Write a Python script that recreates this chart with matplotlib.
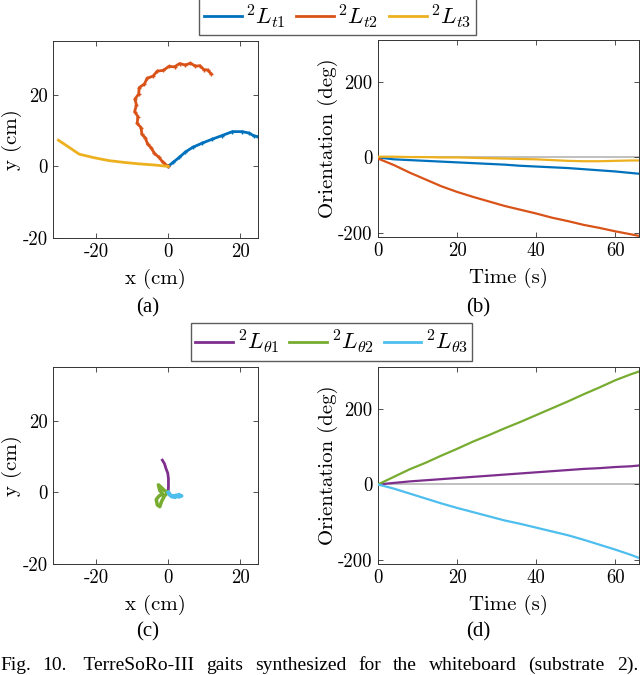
import matplotlib
matplotlib.use("Agg")
import matplotlib.pyplot as plt

plt.rcParams['font.family'] = ['cmr10', 'DejaVu Serif']
plt.rcParams['mathtext.fontset'] = 'cm'
plt.rcParams['axes.unicode_minus'] = False
plt.rcParams['axes.formatter.use_mathtext'] = False

# MATLAB default line colours
C_BLUE, C_ORANGE, C_YELLOW = '#0072BD', '#D95319', '#EDB120'
C_PURPLE, C_GREEN, C_CYAN = '#7E2F8E', '#77AC30', '#4DBEEE'

# (a) trajectories, translation gaits
lt1_x = [0.0, 1.5, 3.1, 4.8, 6.8, 9.5, 12.3, 15.0, 17.9, 20.6, 22.5, 23.9, 25.0]
lt1_y = [0.0, 1.2, 2.5, 4.0, 5.3, 6.5, 7.6, 8.6, 9.7, 9.7, 9.3, 8.5, 8.3]
lt2_x = [0.0, -1.5, -2.6, -3.8, -4.7, -5.7, -6.3, -7.3, -7.5, -8.6, -8.4, -9.3, -8.8, -9.2,
         -8.2, -8.0, -6.6, -5.8, -4.2, -3.0, -1.3, 0.2, 1.8, 3.2, 4.8, 6.2, 7.6, 8.8, 10.0, 11.0, 12.0]
lt2_y = [0.0, 1.2, 2.6, 3.6, 5.2, 6.2, 7.9, 9.0, 10.8, 12.0, 13.9, 15.3, 17.1, 18.8,
         20.2, 22.0, 23.0, 24.6, 25.2, 26.6, 26.8, 27.9, 27.8, 28.7, 28.3, 28.8, 28.0, 28.1, 27.0, 26.9, 25.8]
lt3_x = [-30.5, -27.5, -24.7, -20.5, -16.4, -12.2, -8.1, -4.0, 0.0]
lt3_y = [7.3, 5.3, 3.4, 2.4, 1.6, 1.1, 0.7, 0.4, 0.0]

# (b) orientation, translation gaits
t = [0, 4, 8, 12, 16, 20, 24, 28, 32, 36, 40, 44, 48, 52, 56, 60, 64, 66]
lt1_ori = [0, -5, -7, -9, -11, -13, -15, -17, -19, -22, -24, -26, -28, -31, -34, -37, -41, -43]
lt2_ori = [-3, -20, -40, -58, -76, -91, -104, -116, -128, -138, -148, -159, -168, -178, -186, -195, -203, -207]
lt3_ori = [2, 2, 1, 1, 0, 0, -1, -2, -3, -4, -5, -7, -9, -10, -10, -9, -8, -8]

# (c) trajectories, rotation gaits
lr1_x = [0.0, 0.1, 0.1, -0.1, -0.6, -1.0, -1.6]
lr1_y = [0.0, 1.6, 3.9, 5.4, 6.7, 8.0, 9.0]
lr2_x = [0.0, -1.0, -2.0, -2.7, -2.3, -1.5, -2.5, -3.3, -3.0, -2.3, -1.8, -1.0, 0.0]
lr2_y = [0.0, 0.5, 1.5, 2.1, 0.5, -0.5, -1.0, -2.0, -3.5, -4.0, -2.5, -1.0, 0.0]
lr3_x = [0.0, 0.5, 1.5, 2.3, 3.0, 3.8, 3.0, 2.0, 1.0, 0.3]
lr3_y = [0.0, -0.8, -1.0, -0.8, -1.3, -1.0, -0.6, -1.4, -1.2, -0.3]

# (d) orientation, rotation gaits
lr1_ori = [0, 4, 8, 11, 14, 17, 20, 23, 26, 29, 32, 35, 38, 41, 43, 46, 48, 50]
lr2_ori = [0, 20, 40, 57, 76, 94, 113, 130, 148, 165, 183, 201, 219, 238, 256, 275, 291, 298]
lr3_ori = [0, -11, -24, -37, -50, -62, -73, -84, -95, -104, -114, -124, -134, -146, -159, -172, -186, -194]

caption_words = ['Fig.', '10.', ' TerreSoRo-III', 'gaits', 'synthesized', 'for', 'the',
                 'whiteboard', '(substrate', '2).']

fig = plt.figure(figsize=(6.4, 6.75), dpi=100)

W = 640.0
H = 675.0
def box(l, t_, r, b):
    return [l / W, 1 - b / H, (r - l) / W, (b - t_) / H]

ax_a = fig.add_axes(box(53, 41, 258, 238))
ax_b = fig.add_axes(box(378, 40, 639, 237))
ax_c = fig.add_axes(box(53, 367, 258, 564))
ax_d = fig.add_axes(box(378, 367, 639, 564))

lw = 2.0
h1, = ax_a.plot(lt1_x, lt1_y, color=C_BLUE, lw=lw, marker='+', ms=3)
h2, = ax_a.plot(lt2_x, lt2_y, color=C_ORANGE, lw=lw, marker='+', ms=3)
h3, = ax_a.plot(lt3_x, lt3_y, color=C_YELLOW, lw=lw)

ax_b.axhline(0, color='#b5b5b5', lw=1.2, zorder=1)
ax_b.plot(t, lt1_ori, color=C_BLUE, lw=1.6, zorder=3)
ax_b.plot(t, lt2_ori, color=C_ORANGE, lw=1.6, zorder=3)
ax_b.plot(t, lt3_ori, color=C_YELLOW, lw=1.6, zorder=3)

g1, = ax_c.plot(lr1_x, lr1_y, color=C_PURPLE, lw=lw)
g2, = ax_c.plot(lr2_x, lr2_y, color=C_GREEN, lw=lw + 0.5)
g3, = ax_c.plot(lr3_x, lr3_y, color=C_CYAN, lw=lw + 0.5)

ax_d.axhline(0, color='#b5b5b5', lw=1.2, zorder=1)
ax_d.plot(t, lr1_ori, color=C_PURPLE, lw=1.6, zorder=3)
ax_d.plot(t, lr2_ori, color=C_GREEN, lw=1.6, zorder=3)
ax_d.plot(t, lr3_ori, color=C_CYAN, lw=1.6, zorder=3)

for ax in (ax_a, ax_c):
    ax.set_xlim(-32, 25)
    ax.set_ylim(-20, 35)
    ax.set_xticks([-20, 0, 20])
    ax.set_yticks([-20, 0, 20])
    ax.set_xlabel('x (cm)', fontsize=15, labelpad=5)
    ax.set_ylabel('y (cm)', fontsize=15, labelpad=0)

for ax in (ax_b, ax_d):
    ax.set_xlim(0, 66)
    ax.set_ylim(-210, 310)
    ax.set_xticks([0, 20, 40, 60])
    ax.set_yticks([-200, 0, 200])
    ax.set_xlabel('Time (s)', fontsize=15, labelpad=5)
    ax.set_ylabel('Orientation (deg)', fontsize=15, labelpad=0)

for ax in (ax_a, ax_b, ax_c, ax_d):
    ax.tick_params(direction='in', top=True, right=True, length=3.5, width=0.6,
                   labelsize=13.5, color='#333333', pad=4)
    for s in ax.spines.values():
        s.set_color('#333333')
        s.set_linewidth(0.7)

leg_kw = dict(loc='center', ncol=3, fontsize=16.5, frameon=True, fancybox=False,
              edgecolor='#333333', handlelength=1.65, handletextpad=0.15,
              columnspacing=0.45, borderpad=0.2, borderaxespad=0)
lg1 = fig.legend([h1, h2, h3], [r'$^2L_{t1}$', r'$^2L_{t2}$', r'$^2L_{t3}$'],
                 bbox_to_anchor=(337.5 / W, 1 - 16.5 / H), **leg_kw)
lg2 = fig.legend([g1, g2, g3], [r'$^2L_{\theta1}$', r'$^2L_{\theta2}$', r'$^2L_{\theta3}$'],
                 bbox_to_anchor=(331.5 / W, 1 - 342 / H), **leg_kw)
for lg in (lg1, lg2):
    lg.get_frame().set_linewidth(1.0)
    for ln in lg.get_lines():
        ln.set_linewidth(2.0)
        ln.set_marker('')

for lab, x, y in [('(a)', 148, 308), ('(b)', 478, 308), ('(c)', 148, 632), ('(d)', 478, 632)]:
    fig.text(x / W, 1 - y / H, lab, ha='center', va='center', fontsize=15,
             family=['Liberation Serif', 'DejaVu Serif'])

# caption, justified across the full width
cap = [fig.text(0, 1 - 670 / H, w, ha='left', va='baseline', fontsize=14,
                family=['Liberation Serif', 'DejaVu Serif']) for w in caption_words]
fig.canvas.draw()
r = fig.canvas.get_renderer()
widths = [c.get_window_extent(r).width for c in cap]
gap = (W - 2 - sum(widths)) / (len(cap) - 1)
x = 0.0
for c, w in zip(cap, widths):
    c.set_x(x / W)
    x += w + gap

fig.savefig('out.png', dpi=100)
